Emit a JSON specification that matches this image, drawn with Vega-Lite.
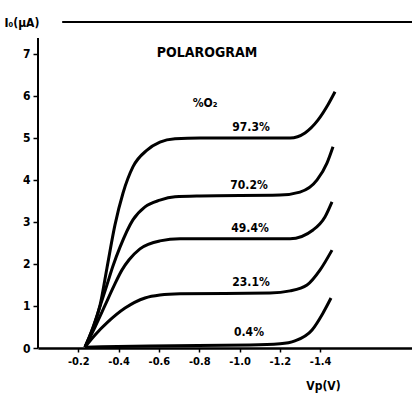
{
  "$schema": "https://vega.github.io/schema/vega-lite/v6.json",
  "autosize": {"type": "none"},
  "padding": {"left": 38, "top": 22, "right": 0, "bottom": 51},
  "width": 374,
  "height": 326,
  "background": "white",
  "config": {"view": {"stroke": null}, "font": "DejaVu Sans Condensed, Liberation Sans Narrow, DejaVu Sans"},
  "datasets": {
    "curves": [
      {"c": "97.3", "v": -0.233, "i": 0.02}, {"c": "97.3", "v": -0.268, "i": 0.43}, {"c": "97.3", "v": -0.308, "i": 1.02},
      {"c": "97.3", "v": -0.342, "i": 1.9}, {"c": "97.3", "v": -0.382, "i": 2.93}, {"c": "97.3", "v": -0.422, "i": 3.69},
      {"c": "97.3", "v": -0.471, "i": 4.31}, {"c": "97.3", "v": -0.541, "i": 4.71}, {"c": "97.3", "v": -0.605, "i": 4.9},
      {"c": "97.3", "v": -0.68, "i": 4.98}, {"c": "97.3", "v": -0.804, "i": 5.0}, {"c": "97.3", "v": -1.251, "i": 5.0},
      {"c": "97.3", "v": -1.325, "i": 5.12}, {"c": "97.3", "v": -1.39, "i": 5.43}, {"c": "97.3", "v": -1.439, "i": 5.79},
      {"c": "97.3", "v": -1.474, "i": 6.1},
      {"c": "70.2", "v": -0.233, "i": 0.02}, {"c": "70.2", "v": -0.273, "i": 0.48}, {"c": "70.2", "v": -0.313, "i": 1.07},
      {"c": "70.2", "v": -0.342, "i": 1.5}, {"c": "70.2", "v": -0.372, "i": 1.95}, {"c": "70.2", "v": -0.407, "i": 2.4},
      {"c": "70.2", "v": -0.471, "i": 3.05}, {"c": "70.2", "v": -0.531, "i": 3.36}, {"c": "70.2", "v": -0.605, "i": 3.52},
      {"c": "70.2", "v": -0.68, "i": 3.6}, {"c": "70.2", "v": -0.804, "i": 3.62}, {"c": "70.2", "v": -1.201, "i": 3.64},
      {"c": "70.2", "v": -1.3, "i": 3.71}, {"c": "70.2", "v": -1.385, "i": 4.0}, {"c": "70.2", "v": -1.434, "i": 4.4},
      {"c": "70.2", "v": -1.464, "i": 4.79},
      {"c": "49.4", "v": -0.233, "i": 0.02}, {"c": "49.4", "v": -0.283, "i": 0.5}, {"c": "49.4", "v": -0.333, "i": 1.02},
      {"c": "49.4", "v": -0.377, "i": 1.48}, {"c": "49.4", "v": -0.417, "i": 1.86}, {"c": "49.4", "v": -0.452, "i": 2.1},
      {"c": "49.4", "v": -0.506, "i": 2.36}, {"c": "49.4", "v": -0.605, "i": 2.55}, {"c": "49.4", "v": -0.705, "i": 2.6},
      {"c": "49.4", "v": -1.251, "i": 2.6}, {"c": "49.4", "v": -1.365, "i": 2.81}, {"c": "49.4", "v": -1.424, "i": 3.12},
      {"c": "49.4", "v": -1.459, "i": 3.48},
      {"c": "23.1", "v": -0.233, "i": 0.02}, {"c": "23.1", "v": -0.283, "i": 0.31}, {"c": "23.1", "v": -0.347, "i": 0.62},
      {"c": "23.1", "v": -0.432, "i": 0.95}, {"c": "23.1", "v": -0.531, "i": 1.19}, {"c": "23.1", "v": -0.605, "i": 1.26},
      {"c": "23.1", "v": -0.705, "i": 1.29}, {"c": "23.1", "v": -1.151, "i": 1.31}, {"c": "23.1", "v": -1.251, "i": 1.36},
      {"c": "23.1", "v": -1.335, "i": 1.5}, {"c": "23.1", "v": -1.4, "i": 1.86}, {"c": "23.1", "v": -1.459, "i": 2.33},
      {"c": "0.4", "v": -0.233, "i": 0.02}, {"c": "0.4", "v": -0.556, "i": 0.05}, {"c": "0.4", "v": -1.052, "i": 0.07},
      {"c": "0.4", "v": -1.201, "i": 0.1}, {"c": "0.4", "v": -1.275, "i": 0.17}, {"c": "0.4", "v": -1.36, "i": 0.43},
      {"c": "0.4", "v": -1.414, "i": 0.83}, {"c": "0.4", "v": -1.454, "i": 1.19}
    ],
    "labels": [
      {"t": "%O₂", "v": -0.829, "i": 5.83},
      {"t": "97.3%", "v": -1.057, "i": 5.26},
      {"t": "70.2%", "v": -1.047, "i": 3.88},
      {"t": "49.4%", "v": -1.052, "i": 2.86},
      {"t": "23.1%", "v": -1.057, "i": 1.57},
      {"t": "0.4%", "v": -1.047, "i": 0.38}
    ],
    "heading": [{"t": "POLAROGRAM", "v": -0.839, "i": 7.02}],
    "yline": [{"v": 0, "i0": 0, "i1": 7.38}],
    "topline": [{"v0": -0.12, "v1": -1.856, "i": 7.76}]
  },
  "layer": [
    {
      "data": {"name": "yline"},
      "mark": {"type": "rule", "color": "black", "strokeWidth": 2},
      "encoding": {
        "x": {"field": "v", "type": "quantitative", "scale": {"domain": [-1.856, 0], "reverse": true, "nice": false, "zero": false},
          "axis": {"values": [-0.2, -0.4, -0.6, -0.8, -1.0, -1.2, -1.4], "labelExpr": "'-' + format(abs(datum.value), '.1f')",
            "domainColor": "black", "domainWidth": 2.5, "tickColor": "black", "tickWidth": 1.5, "tickSize": 4,
            "labelFont": "DejaVu Sans Condensed, Liberation Sans Narrow, DejaVu Sans", "labelFontWeight": "bold", "labelFontSize": 11, "labelColor": "black", "labelPadding": 3,
            "grid": false, "title": "Vp(V)", "titleFont": "DejaVu Sans Condensed, Liberation Sans Narrow, DejaVu Sans", "titleFontWeight": "bold", "titleFontSize": 12,
            "titleColor": "black", "titleX": 285, "titleY": 37, "titleBaseline": "middle", "titleAlign": "center", "titleAnchor": null}},
        "y": {"field": "i0", "type": "quantitative", "scale": {"domain": [0, 7.76], "nice": false, "zero": false},
          "axis": {"values": [0, 1, 2, 3, 4, 5, 6, 7], "domain": false, "grid": false, "tickColor": "black", "tickWidth": 1.5, "tickSize": 5,
            "labelFont": "DejaVu Sans Condensed, Liberation Sans Narrow, DejaVu Sans", "labelFontWeight": "bold", "labelFontSize": 12, "labelColor": "black", "labelPadding": 3,
            "title": "I₀(μA)", "titleAngle": 0, "titleX": -34, "titleY": 0, "titleAlign": "left", "titleBaseline": "middle",
            "titleFont": "DejaVu Sans Condensed, Liberation Sans Narrow, DejaVu Sans", "titleFontWeight": "bold", "titleFontSize": 12, "titleColor": "black"}},
        "y2": {"field": "i1"}
      }
    },
    {
      "data": {"name": "topline"},
      "mark": {"type": "rule", "color": "black", "strokeWidth": 2},
      "encoding": {
        "x": {"field": "v0", "type": "quantitative"},
        "x2": {"field": "v1"},
        "y": {"field": "i", "type": "quantitative"}
      }
    },
    {
      "data": {"name": "curves"},
      "mark": {"type": "line", "color": "black", "strokeWidth": 3, "interpolate": "monotone"},
      "encoding": {
        "x": {"field": "v", "type": "quantitative"},
        "y": {"field": "i", "type": "quantitative"},
        "detail": {"field": "c"},
        "order": {"field": "v", "sort": "descending"}
      }
    },
    {
      "data": {"name": "labels"},
      "mark": {"type": "text", "color": "black", "fontWeight": "bold", "fontSize": 12, "font": "DejaVu Sans Condensed, Liberation Sans Narrow, DejaVu Sans", "align": "center", "baseline": "middle"},
      "encoding": {
        "x": {"field": "v", "type": "quantitative"},
        "y": {"field": "i", "type": "quantitative"},
        "text": {"field": "t"}
      }
    },
    {
      "data": {"name": "heading"},
      "mark": {"type": "text", "color": "black", "fontWeight": "bold", "fontSize": 14, "font": "DejaVu Sans Condensed, Liberation Sans Narrow, DejaVu Sans", "align": "center", "baseline": "middle"},
      "encoding": {
        "x": {"field": "v", "type": "quantitative"},
        "y": {"field": "i", "type": "quantitative"},
        "text": {"field": "t"}
      }
    }
  ]
}
